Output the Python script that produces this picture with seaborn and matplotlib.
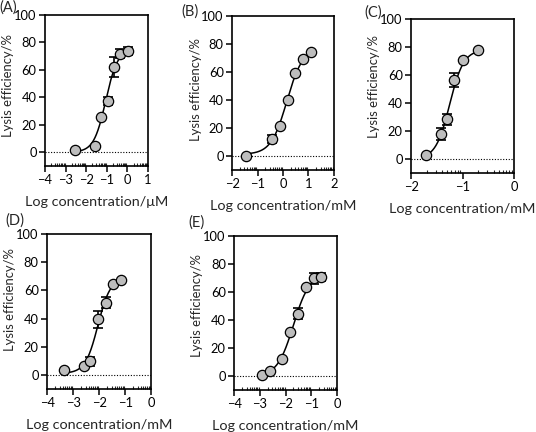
import numpy as np
import pandas as pd
import matplotlib
matplotlib.use("Agg")
import matplotlib.pyplot as plt
import seaborn as sns

# measured points (log concentration, lysis %, error) for each panel
a_x = [-2.56, -1.56, -1.29, -0.96, -0.67, -0.38, 0.03]
a_y = [1.7, 4.8, 25.7, 37.2, 62.0, 71.7, 73.6]
a_err = [0, 0, 0, 3, 7, 3, 3]

b_x = [-1.44, -0.43, -0.12, 0.18, 0.48, 0.78, 1.08]
b_y = [0.0, 11.9, 21.4, 40.0, 59.3, 69.3, 74.5]
b_err = [0, 3, 0, 0, 0, 0, 0]

c_x = [-1.71, -1.41, -1.30, -1.16, -1.00, -0.70]
c_y = [2.4, 17.8, 28.4, 56.4, 70.4, 77.5]
c_err = [0, 4, 4, 5, 0, 0]

d_x = [-3.35, -2.59, -2.36, -2.06, -1.75, -1.46, -1.15]
d_y = [3.3, 6.2, 9.5, 39.5, 51.2, 64.3, 67.6]
d_err = [0, 0, 3, 6, 4, 0, 0]

e_x = [-2.91, -2.60, -2.14, -1.83, -1.53, -1.22, -0.91, -0.63]
e_y = [0.5, 4.0, 12.3, 31.2, 44.7, 63.4, 70.0, 71.0]
e_err = [0, 0, 0, 0, 4, 0, 4, 3]

# fitted dose-response parameters: bottom, top, logEC50, hill slope
a_fit = [0, 75, -1.05, 1.5]
b_fit = [1, 77, 0.15, 1.4]
c_fit = [0, 78, -1.25, 3.2]
d_fit = [1, 69, -2.05, 1.8]
e_fit = [0, 73, -1.70, 1.4]

labels = ["(A)", "(B)", "(C)", "(D)", "(E)"]
units = ["\u03bcM", "mM", "mM", "mM", "mM"]
xlims = [(-4, 1), (-2, 2), (-2, 0), (-4, 0), (-4, 0)]

sns.set_style("ticks")
plt.rcParams["font.family"] = ["Lato", "DejaVu Sans"]

fig = plt.figure(figsize=(5.36, 4.32), dpi=100)
boxes = [
    [0.084, 0.616, 0.192, 0.350],
    [0.433, 0.607, 0.190, 0.356],
    [0.767, 0.600, 0.192, 0.356],
    [0.088, 0.100, 0.194, 0.358],
    [0.437, 0.097, 0.192, 0.356],
]
tag_pos = [(-0.44, 1.045), (-0.50, 1.03), (-0.45, 1.045), (-0.40, 1.09), (-0.45, 1.09)]
ylab_y = [0.53, 0.52, 0.56, 0.58, 0.55]
panels = [
    (a_x, a_y, a_err, a_fit),
    (b_x, b_y, b_err, b_fit),
    (c_x, c_y, c_err, c_fit),
    (d_x, d_y, d_err, d_fit),
    (e_x, e_y, e_err, e_fit),
]

for i, (xs, ys, errs, fit) in enumerate(panels):
    ax = fig.add_axes(boxes[i])
    df = pd.DataFrame({"x": xs, "y": ys, "err": errs})

    # fitted curve
    bottom, top, ec50, hill = fit
    cx = np.linspace(min(xs), max(xs), 200)
    cy = bottom + (top - bottom) / (1 + 10 ** ((ec50 - cx) * hill))
    sns.lineplot(x=cx, y=cy, color="black", linewidth=1.1, ax=ax, zorder=2)

    ax.axhline(0, color="black", linestyle=(0, (1, 1.5)), linewidth=0.8, zorder=1)

    bars = df[df["err"] > 0]
    ax.errorbar(bars["x"], bars["y"], yerr=bars["err"], fmt="none",
                ecolor="black", elinewidth=1.2, capsize=3.5, capthick=1.2, zorder=3)
    sns.scatterplot(data=df, x="x", y="y", s=55, color="#bdbdbd",
                    edgecolor="black", linewidth=0.9, ax=ax, zorder=4)

    lo, hi = xlims[i]
    ax.set_xlim(lo, hi)
    ax.set_ylim(-10, 100)
    ax.set_xticks(np.arange(lo, hi + 1, 1))
    minors = [k + np.log10(m) for k in range(lo, hi) for m in range(2, 10)]
    ax.set_xticks(minors, minor=True)
    ax.set_yticks([0, 20, 40, 60, 80, 100])
    ax.tick_params(axis="both", which="major", direction="out", length=4,
                   width=1.1, labelsize=9.3, pad=2, colors="black")
    ax.tick_params(axis="x", which="minor", direction="in", length=2.5, width=0.8)
    for sp in ax.spines.values():
        sp.set_visible(True)
        sp.set_linewidth(1.2)
        sp.set_color("black")

    ax.set_xlabel("Log concentration/" + units[i], fontsize=10.4, labelpad=7)
    ax.set_ylabel("Lysis efficiency/%", fontsize=9.4)
    ax.yaxis.set_label_coords(-0.30, ylab_y[i])
    ax.text(tag_pos[i][0], tag_pos[i][1], labels[i], transform=ax.transAxes,
            fontsize=10.5, ha="left", va="center")

fig.savefig("out.png", dpi=100)
